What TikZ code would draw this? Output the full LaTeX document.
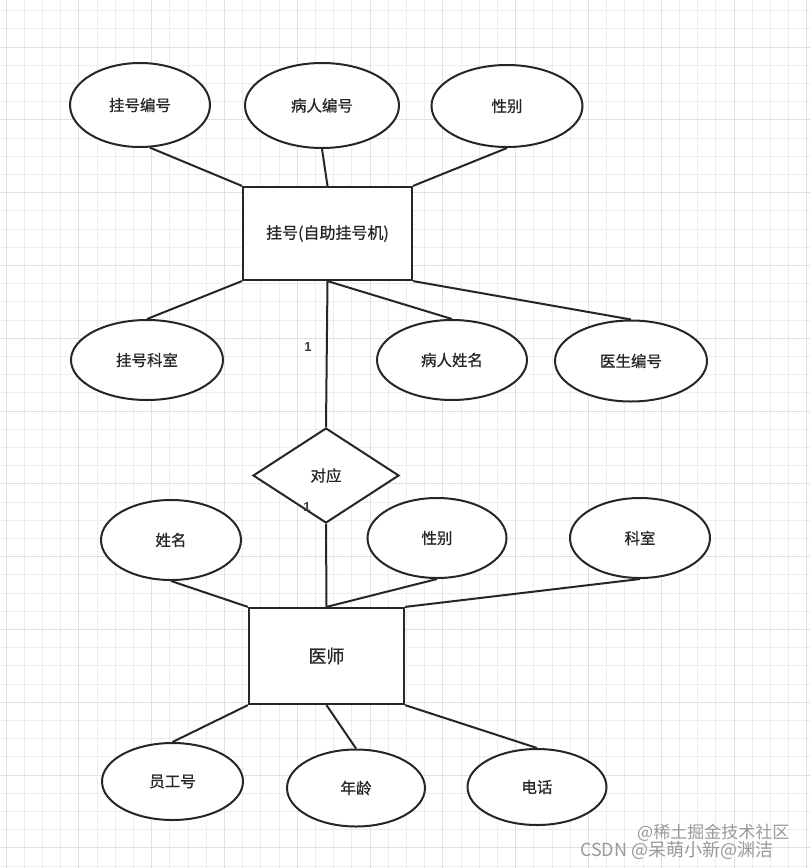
\documentclass[tikz,border=0pt]{standalone}
\usepackage{fontspec}
\newfontfamily\cjk[FakeBold=0.7]{Noto Sans CJK SC}
\newfontfamily\cjkw{Noto Sans CJK SC}
\setmainfont{Liberation Sans}
\usetikzlibrary{shapes.geometric}
\definecolor{ink}{HTML}{262626}
\definecolor{gridc}{HTML}{EDEDED}
\definecolor{gridm}{HTML}{E0E0E0}
\tikzset{
  attr/.style={ellipse, draw=ink, line width=2pt, fill=white, inner sep=0pt,
    font=\cjk\fontsize{15.5}{18}\selectfont, text=ink},
  ent/.style={rectangle, draw=ink, line width=2.2pt, fill=white, inner sep=0pt,
    font=\cjk\fontsize{16}{19}\selectfont, text=ink},
  rel/.style={diamond, draw=ink, line width=2pt, fill=white, inner sep=0pt,
    font=\cjk\fontsize{15.5}{18}\selectfont, text=ink},
  conn/.style={draw=ink, line width=2pt},
  card/.style={font=\bfseries\fontsize{13}{15}\selectfont, text=ink!90, inner sep=0pt},
  wm/.style={font=\cjkw\fontsize{17}{19}\selectfont, text=black!40, inner sep=0pt, anchor=west}
}
\begin{document}
\begin{tikzpicture}[x=1pt,y=-1pt]
\useasboundingbox (0,0) rectangle (810,868);
\fill[white] (0,0) rectangle (810,868);
% grid
\foreach \i in {0,...,44} {
  \draw[gridc, line width=0.8pt] ({6+18.2*\i},0) -- ({6+18.2*\i},868);
}
\foreach \j in {0,...,47} {
  \draw[gridc, line width=0.8pt] (0,{10.6+18.2*\j}) -- (810,{10.6+18.2*\j});
}
\foreach \i in {0,...,11} {
  \draw[gridm, line width=1pt] ({6+72.8*\i},0) -- ({6+72.8*\i},868);
}
\foreach \j in {0,...,12} {
  \draw[gridm, line width=1pt] (0,{47+72.8*\j-72.8}) -- (810,{47+72.8*\j-72.8});
}

% entities and relationship
\node[ent, minimum width=169pt, minimum height=93pt] (R1) at (327.5,233.5) {挂号(自助挂号机)};
\node[ent, minimum width=155pt, minimum height=96pt, font=\cjk\fontsize{18}{21}\selectfont] (R2) at (326.5,656) {医师};
\node[rel, minimum width=146pt, minimum height=95pt, aspect=1.54] (D) at (326,475.5) {对应};

% attributes
\node[attr, minimum width=140pt, minimum height=84pt] (a1) at (140,105) {挂号编号};
\node[attr, minimum width=154pt, minimum height=85pt] (a2) at (322,105.5) {病人编号};
\node[attr, minimum width=151pt, minimum height=82pt] (a3) at (507,106) {性别};
\node[attr, minimum width=152pt, minimum height=80pt] (b1) at (147,360) {挂号科室};
\node[attr, minimum width=150pt, minimum height=80pt] (b2) at (452,360) {病人姓名};
\node[attr, minimum width=152pt, minimum height=81pt] (b3) at (631,361) {医生编号};
\node[attr, minimum width=140pt, minimum height=80pt] (c1) at (171,540) {姓名};
\node[attr, minimum width=139pt, minimum height=80pt] (c2) at (437,538) {性别};
\node[attr, minimum width=140pt, minimum height=80pt] (c3) at (640,538) {科室};
\node[attr, minimum width=141pt, minimum height=77pt] (d1) at (172.5,781.5) {员工号};
\node[attr, minimum width=138pt, minimum height=77pt] (d2) at (356,788) {年龄};
\node[attr, minimum width=139pt, minimum height=76pt] (d3) at (537,787) {电话};

% connectors
\draw[conn] (R1.north west) -- (a1.-77);
\draw[conn] (R1.north) -- (a2.south);
\draw[conn] (R1.north east) -- (a3.south);
\draw[conn] (R1.south west) -- (b1.north);
\draw[conn] (R1.south) -- (b2.north);
\draw[conn] (R1.south east) -- (b3.north);
\draw[conn] (R1.south) -- (D.north);
\draw[conn] (D.south) -- (R2.north);
\draw[conn] (R2.north west) -- (c1.south);
\draw[conn] (R2.north) -- (c2.south);
\draw[conn] (R2.north east) -- (c3.south);
\draw[conn] (R2.south west) -- (d1.north);
\draw[conn] (R2.south) -- (d2.north);
\draw[conn] (R2.south east) -- (d3.north);

% cardinalities
\node[card] (k1) at (308,347) {1};
\node[card] (k2) at (307,507) {1};

% watermark
\node[wm] (w1) at (637,833) {@稀土掘金技术社区};
\node[wm, font=\cjkw\fontsize{18}{20}\selectfont] (w2) at (580,850) {CSDN @呆萌小新@渊洁};
\end{tikzpicture}
\end{document}
